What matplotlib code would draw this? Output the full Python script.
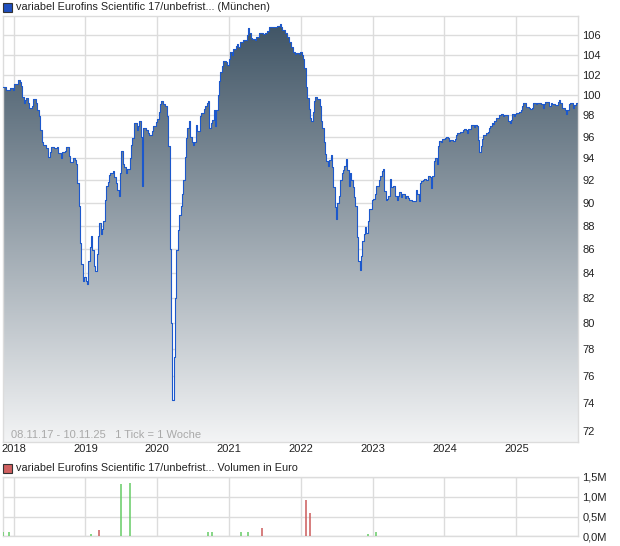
"""
Eurofins Scientific 17/unbefristet - price and volume chart (Muenchen)
"""
import matplotlib
matplotlib.use("Agg")
import matplotlib.pyplot as plt
import matplotlib.dates as mdates
import numpy as np
from matplotlib.patches import Rectangle, Polygon
from matplotlib.ticker import FixedLocator, FuncFormatter, NullLocator

plt.rcParams['font.family'] = ['Liberation Sans', 'DejaVu Sans']

START = np.datetime64('2017-11-08')
END = np.datetime64('2025-11-10')

# weekly ticks: week number since 08.11.17 and closing price
weeks = [0, 2, 5, 7, 8, 11, 12, 13, 14, 15, 16, 17, 18, 19, 21, 22, 24, 25, 26, 27,
         28, 29, 31, 33, 34, 35, 37, 39, 40, 42, 43, 45, 46, 48, 49, 51, 52, 53, 54, 55,
         56, 57, 58, 59, 60, 61, 62, 63, 64, 65, 66, 67, 68, 69, 70, 71, 72, 73, 74, 75,
         76, 77, 78, 80, 81, 82, 83, 84, 85, 86, 87, 88, 89, 90, 92, 93, 94, 95, 96, 97,
         98, 99, 100, 101, 102, 104, 105, 106, 108, 109, 111, 112, 113, 114, 115, 116, 118, 119, 120, 121,
         122, 123, 124, 125, 126, 127, 128, 129, 130, 131, 132, 133, 134, 135, 136, 137, 138, 139, 140, 141,
         143, 144, 146, 147, 148, 149, 150, 151, 152, 153, 154, 155, 156, 157, 158, 159, 160, 162, 163, 164,
         165, 166, 167, 169, 170, 171, 172, 174, 176, 177, 178, 179, 180, 181, 183, 184, 186, 187, 189, 190,
         192, 193, 196, 198, 199, 201, 202, 203, 205, 206, 208, 209, 211, 212, 213, 215, 216, 217, 218, 219,
         220, 221, 222, 223, 224, 225, 226, 227, 228, 230, 231, 232, 233, 234, 235, 236, 237, 238, 239, 240,
         241, 242, 243, 244, 245, 246, 247, 248, 249, 250, 251, 252, 253, 254, 255, 256, 257, 258, 259, 260,
         261, 262, 263, 264, 265, 266, 267, 268, 269, 270, 271, 272, 273, 274, 275, 276, 277, 278, 279, 280,
         281, 282, 283, 284, 285, 286, 287, 288, 289, 290, 292, 293, 294, 295, 297, 299, 300, 301, 302, 303,
         304, 305, 306, 307, 309, 310, 311, 312, 313, 314, 315, 316, 317, 318, 319, 321, 322, 323, 324, 325,
         327, 328, 329, 330, 332, 334, 335, 336, 337, 338, 340, 341, 342, 343, 344, 345, 346, 347, 348, 349,
         350, 351, 352, 353, 354, 355, 356, 357, 358, 360, 362, 363, 364, 366, 367, 368, 369, 370, 371, 372,
         373, 375, 376, 377, 378, 379, 380, 382, 383, 384, 385, 387, 388, 390, 391, 392, 393, 394, 396, 397,
         398, 399, 401, 403, 404, 405, 406, 408, 409, 410, 411, 412, 413, 414, 415, 416, 417]
prices = [100.8, 100.5, 100.7, 100.5, 101.1, 101.5, 101.3, 100.9, 99.8, 99.2, 99.5, 99.7, 99.2, 98.7, 98.9, 99.6, 99.2, 98.5, 97.9, 96.6,
          95.5, 95.2, 94.9, 94.1, 94.6, 95.0, 94.9, 95.0, 94.5, 94.0, 94.6, 94.7, 95.0, 94.2, 93.6, 94.0, 93.8, 93.5, 91.7, 89.7,
          86.5, 84.8, 83.4, 83.7, 83.4, 83.1, 85.0, 86.2, 87.1, 85.9, 84.6, 84.2, 85.6, 87.1, 88.2, 87.3, 87.7, 88.4, 90.2, 91.5,
          91.8, 92.5, 92.6, 92.8, 92.3, 91.7, 91.1, 90.6, 92.6, 94.7, 93.5, 93.2, 92.6, 93.0, 94.0, 95.2, 95.9, 97.3, 97.3, 96.6,
          97.0, 97.5, 96.0, 91.5, 96.8, 96.6, 96.3, 96.1, 96.5, 97.0, 97.4, 97.7, 98.3, 99.1, 99.4, 99.1, 98.9, 97.9, 95.1, 86.0,
          80.0, 74.2, 77.4, 82.0, 85.9, 87.6, 88.9, 89.7, 90.8, 92.0, 94.1, 95.9, 96.8, 97.5, 96.0, 95.5, 95.2, 95.5, 97.1, 96.5,
          97.9, 98.2, 98.6, 98.9, 99.2, 99.4, 96.8, 97.3, 97.6, 98.5, 97.0, 98.5, 100.0, 101.4, 102.2, 102.9, 103.4, 103.3, 103.0, 103.6,
          104.3, 104.0, 104.6, 104.9, 105.1, 104.8, 105.3, 105.5, 105.5, 106.0, 106.7, 106.2, 105.7, 105.6, 105.5, 105.8, 106.2, 106.2, 106.1, 106.2,
          106.4, 106.8, 106.8, 106.8, 106.9, 107.2, 106.8, 106.5, 106.2, 105.8, 105.3, 104.8, 104.3, 104.1, 104.2, 104.1, 104.3, 104.0, 103.6, 102.7,
          100.8, 99.7, 98.6, 97.8, 97.5, 98.3, 99.4, 99.8, 99.6, 98.9, 97.5, 96.8, 95.5, 94.4, 93.7, 93.3, 93.8, 94.3, 93.2, 91.4,
          89.6, 88.6, 90.0, 90.6, 92.0, 92.6, 92.9, 93.3, 93.9, 92.9, 91.5, 92.6, 92.0, 91.4, 90.5, 89.7, 87.0, 85.0, 84.3, 85.4,
          86.7, 87.3, 87.9, 87.4, 88.4, 89.4, 89.4, 90.2, 90.3, 90.8, 91.5, 91.5, 92.0, 92.4, 92.8, 93.0, 91.0, 90.2, 90.3, 90.6,
          92.1, 91.4, 91.5, 91.5, 90.6, 90.2, 90.6, 90.9, 90.5, 90.8, 90.4, 90.6, 90.4, 90.2, 90.1, 90.1, 91.1, 90.8, 90.1, 91.7,
          91.9, 92.0, 92.1, 92.0, 92.4, 92.3, 91.3, 92.4, 93.7, 94.0, 93.5, 95.1, 95.6, 95.5, 95.8, 95.9, 96.0, 95.9, 95.6, 95.7,
          95.6, 95.8, 96.1, 96.3, 96.4, 96.6, 96.7, 96.6, 96.3, 96.7, 97.1, 97.1, 96.9, 97.1, 97.0, 95.7, 94.6, 95.1, 95.8, 96.1,
          96.1, 96.3, 96.4, 96.8, 97.0, 97.3, 97.2, 97.5, 97.8, 98.0, 98.1, 97.9, 98.0, 98.0, 97.5, 97.3, 97.6, 98.1, 97.9, 98.1,
          98.2, 98.3, 98.5, 98.9, 99.2, 99.2, 98.8, 98.7, 98.6, 98.7, 99.2, 99.1, 99.2, 99.2, 99.1, 98.7, 99.1, 99.3, 99.3, 98.9,
          99.2, 99.1, 99.0, 99.3, 99.5, 99.2, 98.7, 98.5, 98.1, 98.5, 99.1, 99.2, 99.2, 98.7, 99.0, 99.2, 99.2]

# volume ticks (Mio. Euro); True = up week (green), False = down week (red)
vol_weeks = [0, 4, 64, 70, 86, 92, 149, 152, 173, 178, 188, 220, 223, 265, 271]
vol_values = [0.1, 0.1, 0.07, 0.17, 1.32, 1.36, 0.1, 0.1, 0.1, 0.1, 0.2, 0.92, 0.58, 0.07, 0.1]
vol_up = [True, True, True, False, True, True, True, True, True, True, False, False, False, True, True]

price_ticks = list(range(72, 107, 2))
vol_ticks = [0.0, 0.5, 1.0, 1.5]
years = list(range(2018, 2026))

GRID = '#dcdcdc'
LINE = '#1c58cc'


def to_dates(w):
    return START + np.array(w) * np.timedelta64(7, 'D')


def style_axes(ax):
    for s in ax.spines.values():
        s.set_color(GRID)
        s.set_linewidth(1)
    year_pos = [mdates.date2num(np.datetime64(f'{y}-01-01')) for y in years]
    ax.xaxis.set_major_locator(FixedLocator(year_pos))
    ax.xaxis.set_minor_locator(NullLocator())
    ax.grid(True, color=GRID, linewidth=1)
    ax.set_axisbelow(True)
    ax.yaxis.tick_right()
    ax.tick_params(length=0, labelsize=8, colors='#222222', pad=3)
    ax.set_xlim(mdates.date2num(START), mdates.date2num(END))


fig = plt.figure(figsize=(6.2, 5.46), dpi=100)
W, H = 620, 546
ax = fig.add_axes([3 / W, (H - 441.7) / H, 575 / W, 425.7 / H])
axv = fig.add_axes([3 / W, (H - 536.3) / H, 575 / W, 59.3 / H])

# price panel
dates = to_dates(weeks)
xs = mdates.date2num(np.append(dates, END))
ys = np.append(prices, prices[-1])

ax.set_yscale('log')
ymin, ymax = 71.25, 108.0
ax.set_ylim(ymin, ymax)
style_axes(ax)

# step outline as polygon for the gradient fill
sx = np.repeat(xs, 2)[1:]
sy = np.repeat(ys, 2)[:-1]
verts = np.column_stack([np.concatenate([sx, [sx[-1], sx[0]]]),
                         np.concatenate([sy, [ymin, ymin]])])
poly = Polygon(verts, closed=True, facecolor='none', edgecolor='none',
               transform=ax.transData)
ax.add_patch(poly)

top = np.array([0x3d, 0x52, 0x63]) / 255
bot = np.array([0xf3, 0xf4, 0xf5]) / 255
t = np.linspace(0, 1, 256)[:, None]
grad = (top[None, :] * (1 - t) + bot[None, :] * t)[:, None, :]
im = ax.imshow(grad, extent=[0, 1, 0, 1], transform=ax.transAxes,
               aspect='auto', origin='upper', zorder=1.5)
im.set_clip_path(poly)

ax.plot(xs, ys, color=LINE, linewidth=0.8, drawstyle='steps-post', zorder=3)

ax.yaxis.set_major_locator(FixedLocator(price_ticks))
ax.yaxis.set_minor_locator(NullLocator())
ax.yaxis.set_major_formatter(FuncFormatter(lambda v, p: f'{v:.0f}'))
ax.xaxis.set_major_formatter(FuncFormatter(lambda v, p: mdates.num2date(v).strftime('%Y')))
ax.tick_params(axis='x', pad=2)
for lbl in ax.get_yticklabels():
    lbl.set_ha('left')

ax.text(8 / 575, 0.0157, '08.11.17 - 10.11.25   1 Tick = 1 Woche', transform=ax.transAxes,
        fontsize=8, color='#a9a9a9', va='center', ha='left', zorder=4)

# volume panel
vcolors = ['#66cc66' if up else '#cc5a5a' for up in vol_up]
axv.vlines(mdates.date2num(to_dates(vol_weeks)), 0, vol_values, colors=vcolors,
           linewidth=1.1, zorder=3)
axv.set_ylim(0, 1.5)
style_axes(axv)
axv.yaxis.set_major_locator(FixedLocator(vol_ticks))
axv.yaxis.set_major_formatter(FuncFormatter(lambda v, p: f'{v:.1f}'.replace('.', ',') + 'M'))
axv.set_xticklabels([])
for lbl in axv.get_yticklabels():
    lbl.set_ha('left')

# legend headers
fig.add_artist(Rectangle((3 / W, (H - 12) / H), 9 / W, 9 / H, transform=fig.transFigure,
                         facecolor='#1f4fbf', edgecolor='#333333', linewidth=0.8))
fig.text(16 / W, 1 - 7 / H, 'variabel Eurofins Scientific 17/unbefrist... (München)',
         fontsize=7.85, va='center', ha='left', color='#222222')
fig.add_artist(Rectangle((3 / W, (H - 473) / H), 9 / W, 9 / H, transform=fig.transFigure,
                         facecolor='#d06060', edgecolor='#333333', linewidth=0.8))
fig.text(16 / W, 1 - 468 / H, 'variabel Eurofins Scientific 17/unbefrist... Volumen in Euro',
         fontsize=7.85, va='center', ha='left', color='#222222')

fig.savefig('out.png', dpi=100)
